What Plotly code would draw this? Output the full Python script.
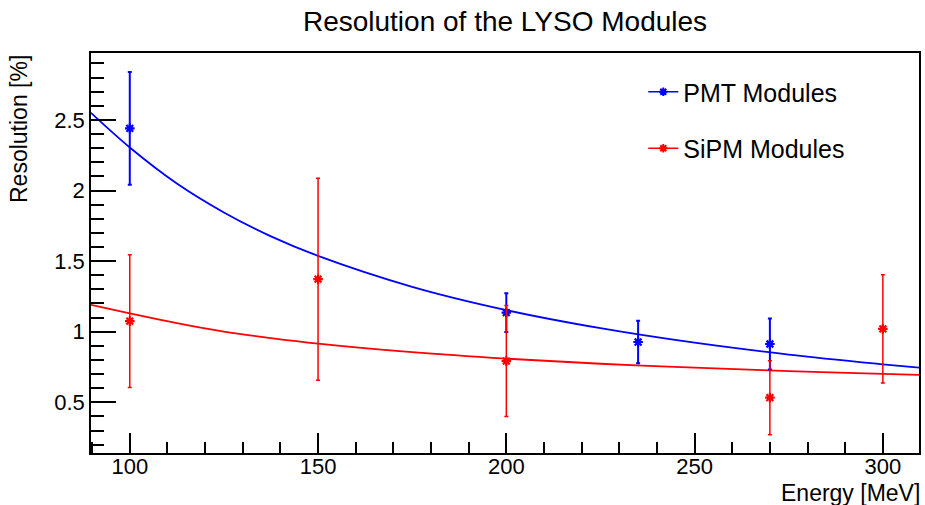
import plotly.graph_objects as go

# ---- data ----
energy_pmt = [100, 200, 235, 270]
res_pmt = [2.44, 1.135, 0.927, 0.913]
err_pmt = [0.40, 0.137, 0.15, 0.18]

energy_sipm = [100, 150, 200, 270, 300]
res_sipm = [1.075, 1.372, 0.792, 0.533, 1.02]
err_sipm = [0.47, 0.715, 0.393, 0.262, 0.383]

fit_energy = [89.7, 100, 112.5, 125, 137.5, 150, 175, 200, 225, 250, 275, 300, 309.6]
fit_pmt = [2.55, 2.305, 2.05, 1.845, 1.675, 1.537, 1.318, 1.153, 1.025, 0.922, 0.838, 0.769, 0.745]
fit_sipm = [1.19, 1.13, 1.06, 1.0, 0.955, 0.916, 0.855, 0.809, 0.773, 0.745, 0.721, 0.702, 0.695]

x_ticks = [100, 150, 200, 250, 300]
y_ticks = [0.5, 1, 1.5, 2, 2.5]

FONT = "Liberation Sans, Arial, Helvetica, sans-serif"
BLUE = "rgb(0,0,255)"
RED = "rgb(255,0,0)"

fig = go.Figure()

# fit curves
fig.add_trace(go.Scatter(x=fit_energy, y=fit_pmt, mode="lines", line=dict(color=BLUE, width=1.8, shape="spline"),
                         showlegend=False, hoverinfo="skip"))
fig.add_trace(go.Scatter(x=fit_energy, y=fit_sipm, mode="lines", line=dict(color=RED, width=1.8, shape="spline"),
                         showlegend=False, hoverinfo="skip"))

# data points with error bars
fig.add_trace(go.Scatter(x=energy_pmt, y=res_pmt, mode="markers",
                         marker=dict(symbol="asterisk-open", size=8, color=BLUE, line=dict(color=BLUE, width=2.2)),
                         error_y=dict(type="data", array=err_pmt, color=BLUE, thickness=2, width=2),
                         showlegend=False))
fig.add_trace(go.Scatter(x=energy_sipm, y=res_sipm, mode="markers",
                         marker=dict(symbol="asterisk-open", size=8, color=RED, line=dict(color=RED, width=2.2)),
                         error_y=dict(type="data", array=err_sipm, color=RED, thickness=1.5, width=2),
                         showlegend=False))

# legend entries
fig.add_trace(go.Scatter(x=[None], y=[None], mode="lines+markers", name="PMT Modules", legendgroup="a",
                         line=dict(color=BLUE, width=1.5),
                         marker=dict(symbol="asterisk-open", size=7, color=BLUE, line=dict(color=BLUE, width=2))))
fig.add_trace(go.Scatter(x=[None], y=[None], mode="lines+markers", name="SiPM Modules", legendgroup="b",
                         line=dict(color=RED, width=1.5),
                         marker=dict(symbol="asterisk-open", size=7, color=RED, line=dict(color=RED, width=2))))

axis_common = dict(showline=True, linecolor="black", linewidth=1.5, mirror=True,
                   ticks="inside", tickcolor="black", tickwidth=1.5,
                   showgrid=False, zeroline=False,
                   tickfont=dict(family=FONT, size=22, color="black"))

fig.update_xaxes(range=[89.7, 309.6], tickvals=x_ticks, ticktext=[str(v) for v in x_ticks],
                 ticklen=20, ticklabelstandoff=-7,
                 minor=dict(ticks="inside", ticklen=11, dtick=10, tick0=0, tickcolor="black", tickwidth=1.5),
                 **axis_common)
fig.update_yaxes(range=[0.141, 2.974], tickvals=y_ticks, ticktext=["0.5", "1", "1.5", "2", "2.5"],
                 ticklen=25, ticklabelstandoff=0,
                 minor=dict(ticks="inside", ticklen=13, dtick=0.1, tick0=0, tickcolor="black", tickwidth=1.5),
                 **axis_common)

fig.update_layout(
    width=925, height=505,
    margin=dict(l=91, r=4, t=53, b=52),
    paper_bgcolor="white", plot_bgcolor="white",
    title=dict(text="Resolution of the LYSO Modules", x=0.5, xref="paper", xanchor="center",
               y=1 - 21 / 505, yref="container", yanchor="middle",
               font=dict(family=FONT, size=28, color="black")),
    legend=dict(x=0.667, y=0.96, xanchor="left", yanchor="top", bgcolor="rgba(0,0,0,0)",
                font=dict(family=FONT, size=25, color="black"),
                traceorder="grouped", tracegroupgap=21),
    annotations=[
        dict(text="Energy [MeV]", xref="paper", yref="paper", x=1, y=0, xanchor="right", yanchor="top",
             yshift=-25, xshift=3, showarrow=False, font=dict(family=FONT, size=23, color="black")),
        dict(text="Resolution [%]", xref="paper", yref="paper", x=0, y=1, xanchor="center", yanchor="top",
             xshift=-72, textangle=-90, showarrow=False, font=dict(family=FONT, size=23, color="black")),
    ],
)

fig.write_html("out.html")
